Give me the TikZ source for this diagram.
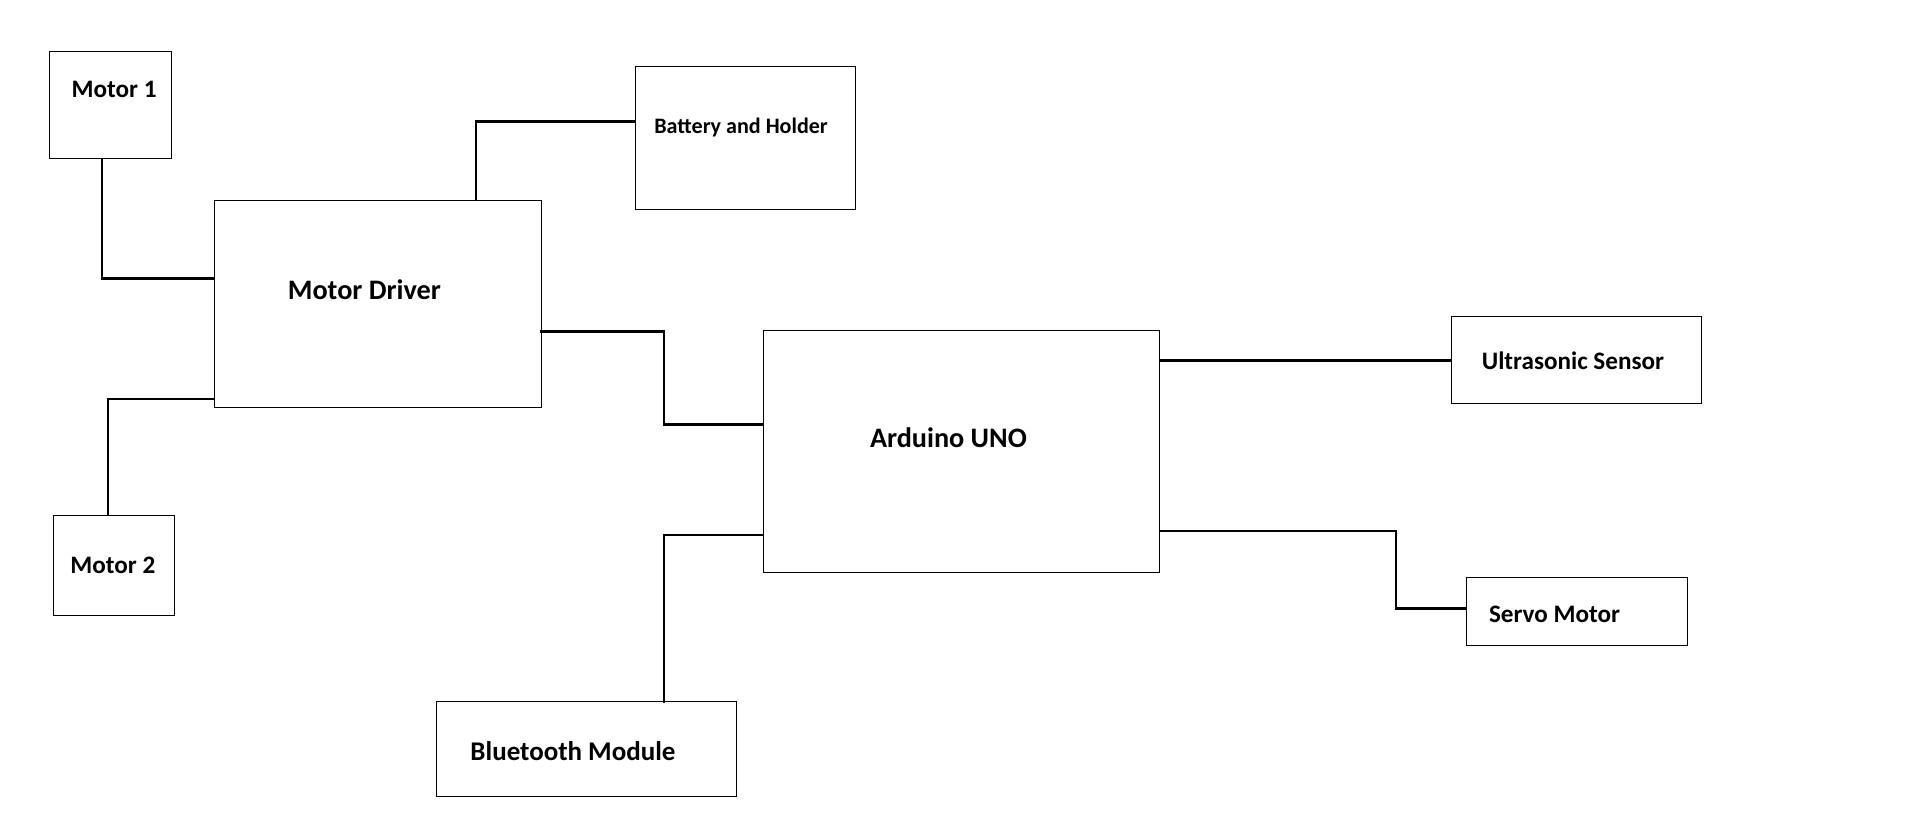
\documentclass[tikz,border=0pt]{standalone}
\usepackage{fontspec}
\setmainfont{Carlito}
\usetikzlibrary{positioning, calc}

\begin{document}
\begin{tikzpicture}[
    x=1pt, y=-1pt,
    % Styles
    box/.style={ % Component block
        rectangle,
        draw,
        line width=0.8pt,
        inner sep=0pt
    },
    lbl/.style={ % Block caption
        font=\bfseries\fontsize{20.5}{22}\selectfont,
        inner sep=0pt
    },
    wire/.style={ % Connection line
        line width=2pt,
        line cap=rect
    }
]
    \useasboundingbox (0,0) rectangle (1560,675);

    % Component blocks
    \node[box, minimum width=100pt, minimum height=87pt] (m1) at (90,85.5) {};
    \node[box, minimum width=179pt, minimum height=117pt] (bat) at (607.5,112.5) {};
    \node[box, minimum width=266pt, minimum height=169pt] (drv) at (308,247.5) {};
    \node[box, minimum width=323pt, minimum height=198pt] (uno) at (783.5,368) {};
    \node[box, minimum width=204pt, minimum height=71pt] (us) at (1285,293.5) {};
    \node[box, minimum width=180pt, minimum height=55pt] (servo) at (1285,498.5) {};
    \node[box, minimum width=98pt, minimum height=82pt] (m2) at (93,461) {};
    \node[box, minimum width=244pt, minimum height=77pt] (bt) at (478,610.5) {};

    % Captions
    \node[lbl] (m1t) at (93,73) {Motor 1};
    \node[lbl, font=\bfseries\fontsize{18}{20}\selectfont] (batt) at (604,104) {Battery and Holder};
    \node[lbl, font=\bfseries\fontsize{23}{25}\selectfont] (drvt) at (297,236) {Motor Driver};
    \node[lbl, font=\bfseries\fontsize{23}{25}\selectfont] (unot) at (773,357) {Arduino UNO};
    \node[lbl] (ust) at (1282,294) {Ultrasonic Sensor};
    \node[lbl] (servot) at (1267,501) {Servo Motor};
    \node[lbl] (m2t) at (92,461) {Motor 2};
    \node[lbl, font=\bfseries\fontsize{22}{24}\selectfont] (btt) at (467,612) {Bluetooth Module};

    % Connections
    \draw[wire] (m1.south -| 83,0) |- (drv.west |- 0,227);
    \draw[wire] (m2.north -| 88,0) |- (drv.west |- 0,325);
    \draw[wire] (drv.north -| 388,0) |- (bat.west |- 0,99);
    \draw[wire] (drv.east |- 0,270) -| (541,346) -- (uno.west |- 0,346);
    \draw[wire] (uno.east |- 0,294) -- (us.west |- 0,294);
    \draw[wire] (uno.east |- 0,433) -| (1138,496) -- (servo.west |- 0,496);
    \draw[wire] (uno.west |- 0,436) -| (bt.north -| 541,0);
\end{tikzpicture}
\end{document}
